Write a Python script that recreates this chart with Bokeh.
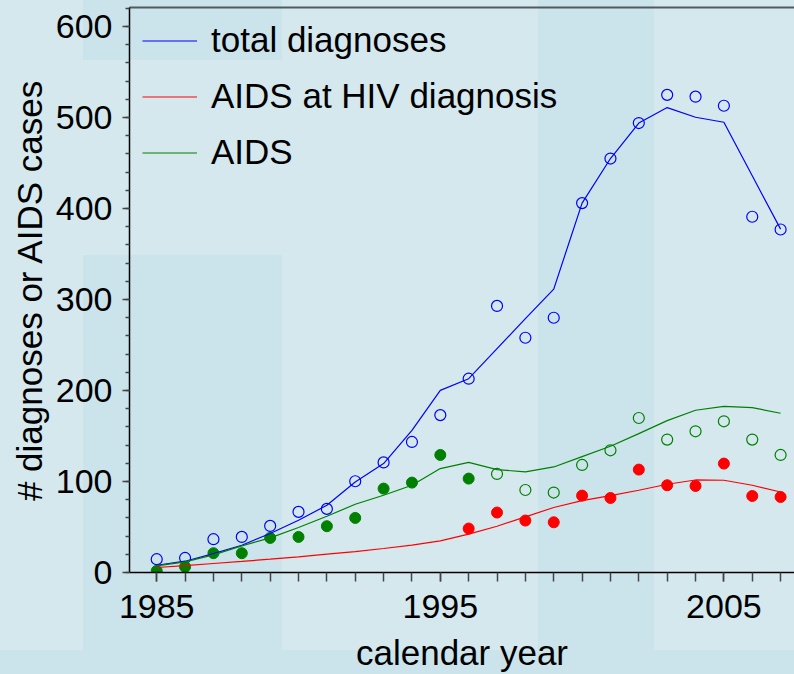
from bokeh.plotting import figure
from bokeh.models import Range1d, FixedTicker, LinearAxis, GlobalInlineStyleSheet
from bokeh.embed import file_html
from bokeh.resources import INLINE

# ---------------- data ----------------
years = list(range(1985, 2008))
total_observed = [14.6, 16, 36.6, 39.1, 51.2, 66.6, 69.9, 100.3, 121, 143.5, 173, 213,
                  293, 258, 280, 406, 455, 494, 525, 523, 513, 391, 377]
total_fitted = [8, 12.4, 20.8, 30, 42.8, 57.4, 73.9, 99.5, 119.7, 156.3, 200.2, 213,
                246, 279, 311.5, 406, 455, 494, 511, 500.4, 494.9, 436, 377.4]

aids_hiv_years = list(range(1996, 2008))
aids_hiv_observed = [48.3, 65.9, 57.1, 55.2, 84.5, 81.9, 113.1, 95.9, 95.1, 119.7, 84.1, 83.0]
aids_hiv_fitted = [5.5, 7.5, 9.9, 12.2, 14.6, 17.2, 20.1, 23, 26.4, 30, 34.7, 42.1,
                   50.8, 61.1, 71.4, 79, 84.5, 90.4, 97, 101.7, 101.4, 95.9, 88.5]

aids_early_years = list(range(1985, 1997))
aids_early_observed = [1.8, 6.2, 21.2, 21.2, 38, 39.1, 50.9, 60, 92.2, 98.8, 129.2, 103.2]
aids_late_years = list(range(1997, 2008))
aids_late_observed = [108.3, 90.7, 87.9, 118.2, 134.3, 169.8, 146.1, 155.2, 166.2, 146.1, 129.2]
aids_fitted = [7.3, 11.7, 19.4, 29.2, 38, 49.4, 61.8, 75, 84.9, 95.9, 114.2, 121.1,
               113.1, 110.5, 116, 127.4, 138.7, 152.6, 166.9, 178.3, 182.6, 181.2, 175]

x_major_ticks = [1985, 1995, 2005]
y_major_ticks = [0, 100, 200, 300, 400, 500, 600]
y_minor_ticks = list(range(0, 621, 20))

FONT = "Liberation Sans"
BLUE = "#0000ff"
RED = "#ff0000"
GREEN = "#008000"

bg_css = GlobalInlineStyleSheet(css="""
html {
  background-color: #d4e8ee;
  background-image: linear-gradient(#cbe3ea, #cbe3ea), linear-gradient(#cbe3ea, #cbe3ea),
                    linear-gradient(#cbe3ea, #cbe3ea), linear-gradient(#cbe3ea, #cbe3ea);
  background-position: 83px 0px, 83px 255px, 538px 0px, 0px 650px;
  background-size: 199px 60px, 199px 395px, 116px 650px, 794px 30px;
  background-repeat: no-repeat;
}
body { background: transparent; }
""")

p = figure(width=794, height=674, output_backend="svg", toolbar_location=None,
           x_range=Range1d(1984.04, 2007.49), y_range=Range1d(0, 621),
           min_border_left=129, min_border_right=0, min_border_top=7, min_border_bottom=102,
           background_fill_color=None, border_fill_color=None, outline_line_color=None)
p.stylesheets = [bg_css]
p.grid.visible = False

# x axis
xa = p.xaxis[0]
xa.ticker = FixedTicker(ticks=x_major_ticks, minor_ticks=years)
xa.major_tick_out = 9
xa.major_tick_in = 0
xa.minor_tick_out = 9
xa.minor_tick_in = 0
xa.major_tick_line_color = "#444444"
xa.minor_tick_line_color = "#444444"
xa.major_tick_line_width = 1.5
xa.minor_tick_line_width = 1.5
xa.axis_line_color = "black"
xa.axis_line_width = 1.5
xa.major_label_text_font = FONT
xa.major_label_text_font_size = "34px"
xa.major_label_text_color = "black"
xa.major_label_standoff = 13
xa.axis_label = "calendar year"
xa.axis_label_text_font = FONT
xa.axis_label_text_font_size = "35px"
xa.axis_label_text_font_style = "normal"
xa.axis_label_text_color = "black"
xa.axis_label_standoff = 12

# y axis
ya = p.yaxis[0]
ya.ticker = FixedTicker(ticks=y_major_ticks, minor_ticks=y_minor_ticks)
ya.major_tick_out = 7
ya.major_tick_in = 0
ya.minor_tick_out = 4
ya.minor_tick_in = 0
ya.major_tick_line_color = "#444444"
ya.minor_tick_line_color = "#444444"
ya.major_tick_line_width = 1.5
ya.minor_tick_line_width = 1.5
ya.axis_line_color = "black"
ya.axis_line_width = 1.5
ya.major_label_text_font = FONT
ya.major_label_text_font_size = "34px"
ya.major_label_text_color = "black"
ya.major_label_standoff = 10
ya.axis_label = "# diagnoses or AIDS cases"
ya.axis_label_text_font = FONT
ya.axis_label_text_font_size = "35px"
ya.axis_label_text_font_style = "normal"
ya.axis_label_text_color = "black"
ya.axis_label_standoff = 4

# top frame line
top = LinearAxis(ticker=FixedTicker(ticks=[]), major_tick_out=0, major_tick_in=0,
                 minor_tick_out=0, minor_tick_in=0, major_label_standoff=0,
                 major_label_text_font_size="0px",
                 axis_line_color="#505a60", axis_line_width=2)
p.add_layout(top, "above")

# observed points
p.scatter(years, total_observed, marker="circle", size=11, fill_color=None,
          line_color=BLUE, line_width=1.2)
p.scatter(aids_hiv_years, aids_hiv_observed, marker="circle", size=11,
          fill_color=RED, line_color=RED)
p.scatter(aids_early_years, aids_early_observed, marker="circle", size=11,
          fill_color=GREEN, line_color=GREEN)
p.scatter(aids_late_years, aids_late_observed, marker="circle", size=11, fill_color=None,
          line_color=GREEN, line_width=1.2)

# fitted lines
p.line(years, total_fitted, line_color=BLUE, line_width=1.2, legend_label="total diagnoses")
p.line(years, aids_hiv_fitted, line_color=RED, line_width=1.2, legend_label="AIDS at HIV diagnosis")
p.line(years, aids_fitted, line_color=GREEN, line_width=1.2, legend_label="AIDS")

lg = p.legend[0]
lg.location = "top_left"
lg.margin = 13
lg.padding = 0
lg.border_line_color = None
lg.background_fill_alpha = 0
lg.label_text_font = FONT
lg.label_text_font_size = "35px"
lg.label_text_color = "black"
lg.glyph_width = 55
lg.glyph_height = 39
lg.label_height = 39
lg.spacing = 16
lg.label_standoff = 14

open("out.html", "w").write(file_html(p, INLINE))
